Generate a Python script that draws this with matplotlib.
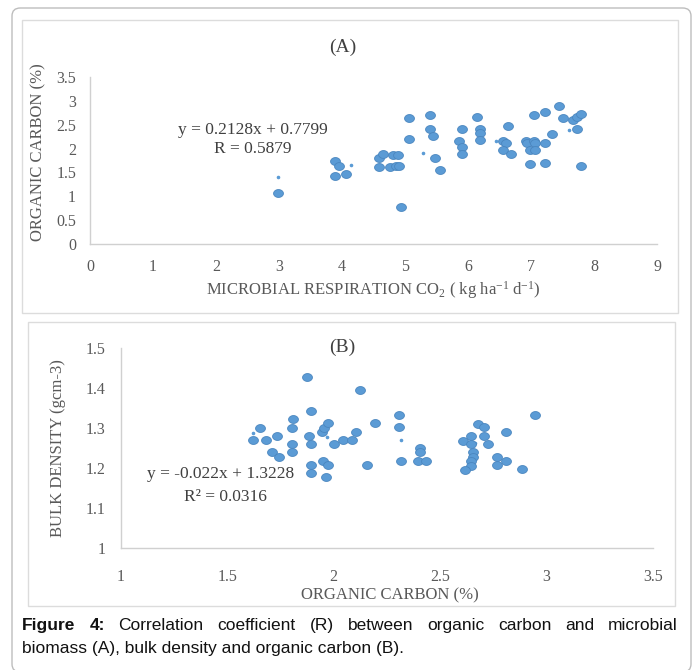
import numpy as np
import matplotlib
matplotlib.use("Agg")
import matplotlib.pyplot as plt
from matplotlib.path import Path
from matplotlib.patches import FancyBboxPatch, Rectangle

plt.rcParams['font.family'] = ['Liberation Serif', 'DejaVu Serif']
plt.rcParams['mathtext.fontset'] = 'custom'
plt.rcParams['mathtext.rm'] = 'Liberation Serif'
plt.rcParams['mathtext.it'] = 'Liberation Serif:italic'

# ---------------- data: panel A ----------------
resp_A = [2.98, 3.89, 3.95, 3.89, 4.07, 4.59, 4.65, 4.59, 4.76, 4.81, 4.89, 4.86, 4.91, 4.93,
          5.06, 5.06, 5.39, 5.39, 5.45, 5.48, 5.55,
          5.90, 5.85, 5.90, 5.90, 6.14, 6.19, 6.19, 6.19,
          6.64, 6.56, 6.61, 6.56, 6.68,
          6.92, 6.93, 7.05, 7.06, 7.22, 6.98, 7.06, 6.98, 7.22,
          7.04, 7.22, 7.44, 7.50, 7.34, 7.66, 7.73, 7.79, 7.73, 7.79]
oc_A = [1.075, 1.75, 1.64, 1.43, 1.47, 1.81, 1.89, 1.61, 1.61, 1.87, 1.87, 1.64, 1.64, 0.77,
        2.65, 2.21, 2.71, 2.40, 2.27, 1.80, 1.56,
        2.40, 2.15, 2.04, 1.89, 2.67, 2.40, 2.32, 2.19,
        2.48, 2.15, 2.11, 1.98, 1.89,
        2.15, 2.11, 2.15, 2.11, 2.11, 1.97, 1.97, 1.68, 1.70,
        2.71, 2.76, 2.90, 2.65, 2.31, 2.60, 2.67, 2.73, 2.40, 1.64]
slope_A, icpt_A = 0.2128, 0.7799
trend_x_A = [2.98, 4.14, 5.29, 6.44, 7.60]

# ---------------- data: panel B ----------------
oc_B = [1.623, 1.655, 1.681, 1.712, 1.744, 1.733, 1.811, 1.803, 1.803, 1.803,
        1.876, 1.893, 1.883, 1.893, 1.893, 1.893, 1.944, 1.955, 1.974, 1.952, 1.974, 1.965,
        2.004, 2.043, 2.086, 2.104, 2.123, 2.156, 2.193,
        2.307, 2.307, 2.317, 2.395, 2.406, 2.406, 2.436,
        2.607, 2.645, 2.645, 2.680, 2.708, 2.708, 2.727, 2.809, 2.657, 2.657, 2.645, 2.645, 2.618,
        2.767, 2.767, 2.809, 2.887, 2.948]
bd_B = [1.270, 1.301, 1.270, 1.240, 1.228, 1.281, 1.324, 1.301, 1.260, 1.240,
        1.428, 1.344, 1.282, 1.260, 1.207, 1.187, 1.291, 1.301, 1.312, 1.217, 1.208, 1.177,
        1.260, 1.270, 1.270, 1.291, 1.397, 1.208, 1.312,
        1.334, 1.302, 1.217, 1.217, 1.250, 1.240, 1.217,
        1.269, 1.282, 1.260, 1.311, 1.302, 1.282, 1.260, 1.291, 1.240, 1.229, 1.217, 1.206, 1.196,
        1.229, 1.207, 1.217, 1.197, 1.334]
slope_B, icpt_B = -0.022, 1.3228
trend_x_B = [1.62, 1.969, 2.317, 2.665]

W, H = 695, 670
fig = plt.figure(figsize=(W / 100, H / 100), dpi=100)

def fx(x):
    return x / W

def fy(y):
    return 1 - y / H

GRAY_AX = '#D0D0D0'
TXT = '#595959'
EQ = '#404040'
BLUE = '#5B9BD5'
EDGE = '#4A86BF'

t = np.linspace(0, 2 * np.pi, 60)
ell = Path(np.column_stack([np.cos(t), 0.8 * np.sin(t)]), closed=True)

# frames
fig.add_artist(FancyBboxPatch((fx(12), fy(672)), fx(691) - fx(12), fy(8) - fy(672),
                              boxstyle="round,pad=0,rounding_size=0.012",
                              transform=fig.transFigure, fill=False, ec='#BDBDBD', lw=1.0))
fig.add_artist(Rectangle((fx(22), fy(313)), fx(678) - fx(22), fy(20) - fy(313),
                         transform=fig.transFigure, fill=False, ec='#DCDCDC', lw=1.0))
fig.add_artist(Rectangle((fx(28), fy(606)), fx(675) - fx(28), fy(322) - fy(606),
                         transform=fig.transFigure, fill=False, ec='#DCDCDC', lw=1.0))


def style_axes(ax):
    for s in ['top', 'right']:
        ax.spines[s].set_visible(False)
    for s in ['left', 'bottom']:
        ax.spines[s].set_color(GRAY_AX)
        ax.spines[s].set_linewidth(1.0)
    ax.tick_params(length=0, labelsize=11.5, colors=TXT)
    ax.patch.set_alpha(0)

# ---------------- panel A ----------------
axA = fig.add_axes([fx(90), fy(244), fx(657) - fx(90), fy(77) - fy(244)])
style_axes(axA)
axA.set_xlim(0, 9)
axA.set_ylim(0, 3.5)
axA.set_xticks(range(0, 10))
axA.set_yticks(np.arange(0, 3.51, 0.5))
axA.set_yticklabels(['0', '0.5', '1', '1.5', '2', '2.5', '3', '3.5'])
axA.tick_params(axis='x', pad=11)
axA.tick_params(axis='y', pad=10)
axA.scatter(resp_A, oc_A, s=50, marker=ell, facecolor=BLUE, edgecolor=EDGE, linewidths=0.6, zorder=3)
tA = np.array(trend_x_A)
axA.scatter(tA, slope_A * tA + icpt_A, s=2.5, color=BLUE, zorder=2)
axA.set_xlabel(r'MICROBIAL RESPIRATION CO$_2$ ( kg ha$^{-1}$ d$^{-1}$)', fontsize=12, color=TXT, labelpad=3)
axA.set_ylabel('ORGANIC CARBON (%)', fontsize=12, color=TXT)
axA.yaxis.set_label_coords((46 - 90) / (657 - 90), (244 - 152) / (244 - 77))
fig.text(fx(253), fy(130), 'y = 0.2128x + 0.7799', ha='center', va='center', fontsize=12.5, color=EQ)
fig.text(fx(253), fy(149), 'R = 0.5879', ha='center', va='center', fontsize=12.5, color=EQ)
fig.text(fx(343), fy(47), '(A)', ha='center', va='center', fontsize=14, color=EQ)

# ---------------- panel B ----------------
axB = fig.add_axes([fx(120.7), fy(548.3), fx(652.7) - fx(120.7), fy(348.3) - fy(548.3)])
style_axes(axB)
axB.set_xlim(1, 3.5)
axB.set_ylim(1, 1.5)
axB.set_xticks([1, 1.5, 2, 2.5, 3, 3.5])
axB.set_xticklabels(['1', '1.5', '2', '2.5', '3', '3.5'])
axB.set_yticks([1, 1.1, 1.2, 1.3, 1.4, 1.5])
axB.set_yticklabels(['1', '1.1', '1.2', '1.3', '1.4', '1.5'])
axB.tick_params(axis='x', pad=15)
axB.tick_params(axis='y', pad=11)
axB.scatter(oc_B, bd_B, s=50, marker=ell, facecolor=BLUE, edgecolor=EDGE, linewidths=0.6, zorder=3)
tB = np.array(trend_x_B)
axB.scatter(tB, slope_B * tB + icpt_B, s=2.5, color=BLUE, zorder=2)
axB.set_xlabel('ORGANIC CARBON (%)', fontsize=12, color=TXT)
axB.xaxis.set_label_coords((390 - 120.7) / (652.7 - 120.7), -(587 - 548.3) / 200)
axB.set_ylabel('BULK DENSITY (gcm-3)', fontsize=12, color=TXT, labelpad=14)
fig.text(fx(221), fy(474), 'y = -0.022x + 1.3228', ha='center', va='center', fontsize=12.5, color=EQ)
fig.text(fx(225), fy(497), 'R² = 0.0316', ha='center', va='center', fontsize=12.5, color=EQ)
fig.text(fx(342), fy(347), '(B)', ha='center', va='center', fontsize=14, color=EQ)

# ---------------- caption (justified first line) ----------------
cap_font = ['Liberation Sans', 'DejaVu Sans']
line1 = [('Figure', 'bold'), ('4:', 'bold'), ('Correlation', 'normal'), ('coefficient', 'normal'),
         ('(R)', 'normal'), ('between', 'normal'), ('organic', 'normal'), ('carbon', 'normal'),
         ('and', 'normal'), ('microbial', 'normal')]
x0, x1, yl1 = 22, 678, 630
texts = []
for w, wt in line1:
    texts.append(fig.text(fx(x0), fy(yl1), w, family=cap_font, fontsize=12.5,
                          fontweight=wt, color='#111111', va='baseline', ha='left'))
fig.canvas.draw()
r = fig.canvas.get_renderer()
widths = [tx.get_window_extent(r).width for tx in texts]
gap = (x1 - x0 - sum(widths)) / (len(widths) - 1)
cx = x0
for tx, wd in zip(texts, widths):
    tx.set_x(fx(cx))
    cx += wd + gap
fig.text(fx(x0), fy(653), 'biomass (A), bulk density and organic carbon (B).', family=cap_font,
         fontsize=12.5, color='#111111', va='baseline', ha='left')

fig.savefig('out.png', dpi=100)
